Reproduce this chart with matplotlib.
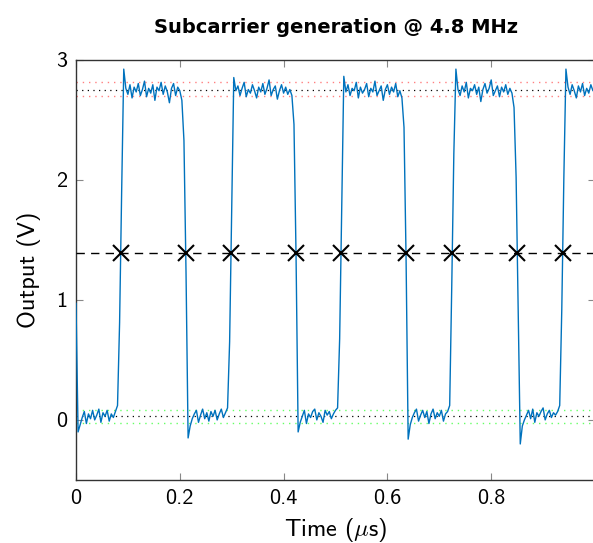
import numpy as np
import matplotlib
matplotlib.use("Agg")
import matplotlib.pyplot as plt

plt.rcParams["mathtext.fontset"] = "cm"
plt.rcParams["axes.unicode_minus"] = False

# Sampled output voltage (V), one sample every 0.004 us
dt = 0.004
voltage = [
    0.97, -0.10, -0.04,
    0.02, 0.07, -0.03, 0.05, 0.01, 0.08, 0.00, 0.04, 0.09, -0.02, 0.06, 0.03, 0.08, -0.01, 0.05, 0.02, 0.07,
    0.12, 0.81, 1.91, 2.92,
    2.76, 2.71, 2.79, 2.68, 2.77, 2.73, 2.80, 2.70, 2.75, 2.82, 2.69, 2.76, 2.72, 2.79, 2.66, 2.77, 2.74, 2.81,
    2.71, 2.78, 2.73, 2.64, 2.76, 2.80, 2.70, 2.77, 2.74,
    2.66, 2.325, 1.225, -0.15, -0.05,
    0.01, 0.05, 0.08, -0.02, 0.04, 0.09, 0.01, 0.06, -0.01, 0.07, 0.03, 0.08, 0.00, 0.05, 0.09, 0.02, 0.06,
    0.10, 0.65, 1.75, 2.85,
    2.74, 2.78, 2.70, 2.76, 2.81, 2.69, 2.75, 2.72, 2.79, 2.74, 2.68, 2.77, 2.73, 2.80, 2.71, 2.76, 2.83, 2.70,
    2.75, 2.78, 2.67, 2.74, 2.79, 2.72, 2.77, 2.71, 2.75,
    2.70, 2.46, 1.36, -0.10, -0.02,
    0.03, 0.08, -0.03, 0.05, 0.02, 0.07, 0.09, 0.00, 0.06, 0.03, -0.02, 0.08, 0.04, 0.07, 0.01, 0.05, 0.08,
    0.10, 0.675, 1.775, 2.86,
    2.73, 2.79, 2.70, 2.76, 2.74, 2.81, 2.68, 2.77, 2.72, 2.75, 2.80, 2.69, 2.76, 2.73, 2.82, 2.70, 2.74, 2.78,
    2.66, 2.75, 2.79, 2.71, 2.77, 2.73, 2.80, 2.69, 2.74,
    2.68, 2.435, 1.335, -0.16, -0.04,
    0.02, 0.06, 0.09, -0.01, 0.04, 0.08, 0.02, 0.07, -0.03, 0.05, 0.09, 0.01, 0.06, 0.03, 0.08, -0.01, 0.05, 0.07,
    0.12, 1.115, 2.215, 2.92,
    2.75, 2.70, 2.78, 2.73, 2.81, 2.68, 2.76, 2.74, 2.79, 2.71, 2.77, 2.65, 2.75, 2.80, 2.72, 2.76, 2.83, 2.70,
    2.74, 2.78, 2.69, 2.77, 2.73, 2.79, 2.71, 2.76,
    2.72, 2.60, 2.02, 0.92, -0.20, -0.05,
    0.00, 0.04, 0.08, 0.01, 0.09, -0.02, 0.06, 0.03, 0.07, 0.10, 0.00, 0.05, 0.08, 0.02, 0.06, 0.04, 0.07,
    0.12, 0.92, 2.02, 2.92,
    2.77, 2.71, 2.79, 2.74, 2.68, 2.78, 2.73, 2.80, 2.70, 2.76, 2.72, 2.79, 2.74, 2.77,
]
time_us = np.arange(len(voltage)) * dt

# Threshold crossings (us) at the mid level
crossing_times = [0.0861, 0.2114, 0.2987, 0.4239, 0.5106, 0.6358, 0.7250, 0.8503, 0.9377]
mid_level = 1.39

# Reference levels: mean and +/- band for high and low states
high_mean, high_band = 2.75, [2.81, 2.70]
low_mean, low_band = 0.033, [0.083, -0.023]

xticks = [0, 0.2, 0.4, 0.6, 0.8]
yticks = [0, 1, 2, 3]

fig = plt.figure(figsize=(5.93, 5.43), dpi=100)
ax = fig.add_axes([76 / 593, 63 / 543, 519 / 593, 420.5 / 543])

ax.plot(time_us, voltage, color="#0072BD", lw=1.0, zorder=3)

dots = (0, (1, 3.5))
for lv in high_band:
    ax.axhline(lv, color="#ff8080", ls=dots, lw=1.0, zorder=2)
ax.axhline(high_mean, color="black", ls=dots, lw=0.9, zorder=2)
for lv in low_band:
    ax.axhline(lv, color="#66ff66", ls=dots, lw=1.0, zorder=2)
ax.axhline(low_mean, color="black", ls=dots, lw=0.9, zorder=2)

ax.axhline(mid_level, color="black", ls=(0, (6, 4.5)), lw=1.0, zorder=4)
ax.plot(crossing_times, [mid_level] * len(crossing_times), ls="none", marker="x",
        ms=12, mew=1.5, color="black", zorder=5)

ax.set_xlim(0, 1.0)
ax.set_ylim(-0.5, 3)
ax.set_xticks(xticks)
ax.set_yticks(yticks)
ax.set_xticklabels([f"{v:g}" for v in xticks])
ax.set_yticklabels([f"{v:g}" for v in yticks])
ax.tick_params(direction="in", length=5, width=0.8, color="#888888",
               top=True, right=True, labelsize=16, pad=6.5)
for lab in ax.get_xticklabels() + ax.get_yticklabels():
    lab.set_family("cmss10")
for sp in ax.spines.values():
    sp.set_color("#333333")
    sp.set_linewidth(1.0)

ax.set_xlabel(r"Time ($\mu$s)", family="cmss10", fontsize=17.5, labelpad=6)
ax.set_ylabel("Output (V)", family="cmss10", fontsize=17.5, labelpad=10.5)
ax.set_title("Subcarrier generation @ 4.8 MHz", family="DejaVu Sans", fontweight="bold",
             fontsize=14, pad=19)

fig.savefig("out.png", dpi=100)
